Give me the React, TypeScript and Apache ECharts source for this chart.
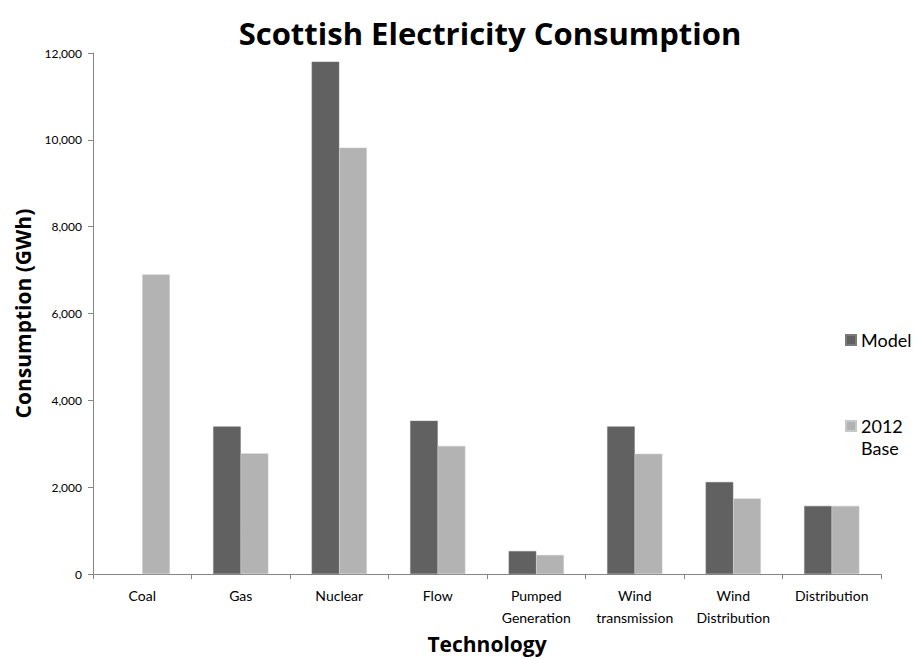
import React, { useEffect, useRef } from "react";
import * as echarts from "echarts";

const categories = [
  "Coal",
  "Gas",
  "Nuclear",
  "Flow",
  "Pumped\nGeneration",
  "Wind\ntransmission",
  "Wind\nDistribution",
  "Distribution",
];
const modelValues: (number | null)[] = [null, 3400, 11800, 3530, 530, 3400, 2120, 1570];
const baseValues = [6900, 2780, 9820, 2950, 440, 2770, 1740, 1570];
const seriesNames = ["Model", "2012 Base"];
const yTicks = { min: 0, max: 12000, interval: 2000 };

const DARK = "#616161";
const LIGHT = "#b3b3b3";
const FONT = "Lato, 'Noto Sans', sans-serif";
const BOLD_FONT = "'Open Sans', Lato, sans-serif";

export default function App() {
  const ref = useRef<HTMLDivElement>(null);
  useEffect(() => {
    if (!ref.current) return;
    const chart = echarts.init(ref.current, undefined, { renderer: "svg" });
    chart.setOption({
      animation: false,
      backgroundColor: "#ffffff",
      title: {
        text: "Scottish Electricity Consumption",
        left: 485,
        textAlign: "center",
        top: 12,
        textStyle: { fontFamily: BOLD_FONT, fontSize: 31, fontWeight: "bold", color: "#000" },
      },
      legend: [
        {
          data: [seriesNames[0]],
          orient: "vertical",
          left: 845,
          top: 329,
          padding: 0,
          itemWidth: 10,
          itemHeight: 10,
          icon: "rect",
          textStyle: { fontFamily: FONT, fontSize: 18, color: "#000", lineHeight: 22 },
        },
        {
          data: [seriesNames[1]],
          orient: "vertical",
          left: 845,
          top: 393,
          padding: 0,
          itemWidth: 10,
          itemHeight: 10,
          icon: "rect",
          formatter: (n: string) => " \n" + n.replace(" ", "\n"),
          textStyle: {
            fontFamily: FONT,
            fontSize: 18,
            color: "#000",
            lineHeight: 22,
          },
        },
      ],
      grid: { left: 93, right: 36, top: 53, bottom: 77, containLabel: false },
      xAxis: {
        type: "category",
        data: categories,
        name: "Technology",
        nameLocation: "middle",
        nameGap: 57,
        nameTextStyle: { fontFamily: BOLD_FONT, fontSize: 21, fontWeight: "bold", color: "#000" },
        axisLine: { lineStyle: { color: "#868686", width: 1 } },
        axisTick: { show: true, length: 5, lineStyle: { color: "#868686" } },
        axisLabel: {
          interval: 0,
          fontFamily: FONT,
          fontSize: 14,
          color: "#000",
          lineHeight: 22,
          margin: 10,
        },
      },
      yAxis: {
        type: "value",
        min: yTicks.min,
        max: yTicks.max,
        interval: yTicks.interval,
        name: "Consumption (GWh)",
        nameLocation: "middle",
        nameGap: 56,
        nameTextStyle: { fontFamily: BOLD_FONT, fontSize: 21, fontWeight: "bold", color: "#000" },
        axisLine: { show: true, lineStyle: { color: "#868686", width: 1 } },
        axisTick: { show: true, length: 5, lineStyle: { color: "#868686" } },
        splitLine: { show: false },
        axisLabel: {
          fontFamily: FONT,
          fontSize: 12,
          color: "#000",
          margin: 11,
          formatter: (v: number) => v.toLocaleString("en-US"),
        },
      },
      series: [
        {
          name: seriesNames[0],
          type: "bar",
          data: modelValues,
          itemStyle: { color: DARK, borderColor: "#7a7a7a", borderWidth: 0.5 },
          barGap: "0%",
          barCategoryGap: "44%",
        },
        {
          name: seriesNames[1],
          type: "bar",
          data: baseValues,
          itemStyle: { color: LIGHT, borderColor: "#c8c8c8", borderWidth: 0.5 },
          barGap: "0%",
          barCategoryGap: "44%",
        },
      ],
    });
    return () => chart.dispose();
  }, []);
  return (
    <div
      ref={ref}
      style={{ position: "fixed", left: 0, top: 0, width: 917, height: 659 }}
    />
  );
}
